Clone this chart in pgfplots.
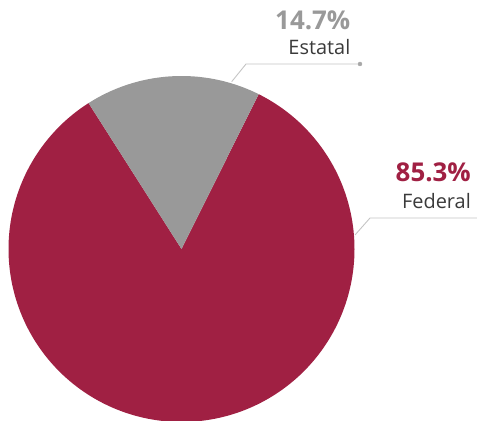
\documentclass[border=0pt]{standalone}
\usepackage{pgfplots}
\pgfplotsset{compat=1.18}
\usepackage{fontspec}
\setmainfont{Open Sans}
\definecolor{crim}{HTML}{A02043}
\definecolor{pgray}{HTML}{999999}
\definecolor{lgray}{HTML}{C4C4C4}
\definecolor{tgray}{HTML}{3A3A3A}
\begin{document}
\begin{tikzpicture}
\begin{axis}[
  scale only axis, width=477bp, height=421bp,
  xmin=0, xmax=477, ymin=0, ymax=421,
  hide axis, clip=false,
]
% pie: centre (181.5,172), radius 173; Estatal wedge 63.5..122.5 deg, Federal the rest
\addplot[draw=none, fill=crim, domain=122.5:423.5, samples=200, variable=\t]
  ({181.5+173*cos(\t)},{172+173*sin(\t)}) -- (axis cs:181.5,172) -- cycle;
\addplot[draw=none, fill=pgray, domain=63.5:122.5, samples=60, variable=\t]
  ({181.5+173*cos(\t)},{172+173*sin(\t)}) -- (axis cs:181.5,172) -- cycle;
% leader lines
\addplot[lgray, line width=0.9pt] coordinates {(231.7,339.3) (246,357) (360,357)};
\addplot[only marks, mark=*, mark size=2pt, color=lgray!85!black] coordinates {(360,357)};
\addplot[lgray, line width=0.9pt] coordinates {(355,186) (370,203) (477,203)};
% labels
\node[anchor=base east, inner sep=0, font=\fontsize{26}{28}\selectfont\bfseries, text=pgray] at (axis cs:350.5,391) {14.7\%};
\node[anchor=base east, inner sep=0, font=\fontsize{20}{22}\selectfont, text=tgray] at (axis cs:350.5,366) {Estatal};
\node[anchor=base east, inner sep=0, font=\fontsize{26}{28}\selectfont\bfseries, text=crim] at (axis cs:471,239) {85.3\%};
\node[anchor=base east, inner sep=0, font=\fontsize{20}{22}\selectfont, text=tgray] at (axis cs:471,212) {Federal};
\end{axis}
\pgfresetboundingbox
\path (0,0) rectangle (477bp,421bp);
\end{tikzpicture}
\end{document}
